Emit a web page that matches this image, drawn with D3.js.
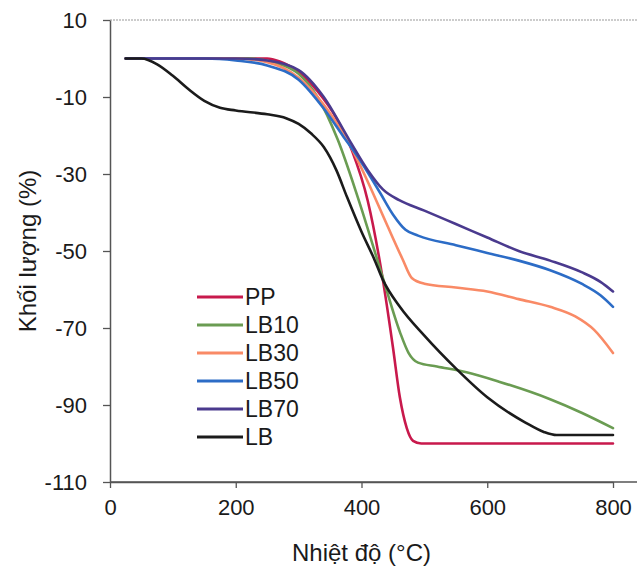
<!DOCTYPE html>
<html>
<head>
<meta charset="utf-8">
<script src="https://cdn.jsdelivr.net/npm/d3@7"></script>
<style>
  body { margin: 0; background: #fff; }
  svg { display: block; font-family: "Liberation Sans", Arial, sans-serif; }
</style>
</head>
<body>
<script>
var width = 637;
var height = 572;

var xTicks = [0, 200, 400, 600, 800];
var yTicks = [10, -10, -30, -50, -70, -90, -110];

var seriesNames = ["PP", "LB10", "LB30", "LB50", "LB70", "LB"];
var seriesColors = ["#c8194c", "#6a9c52", "#f98a66", "#2c6cc6", "#4a3a8e", "#1b1b1b"];

// temperature (°C), mass change (%)
var pp = [[25,0],[250,0],[270,-0.8],[300,-3.5],[330,-8.5],[360,-15.5],[385,-24],[410,-37],[434,-57.5],[450,-75],[461,-88],[472,-96],[482,-99.3],[495,-100],[800,-100]];
var lb10 = [[25,0],[220,0],[260,-1],[300,-4],[330,-10],[362,-21],[394,-36],[434,-57],[461,-71],[475,-76.5],[490,-79],[520,-80],[567,-81.5],[620,-84],[700,-88.5],[750,-92],[800,-96]];
var lb30 = [[25,0],[200,0],[250,-1],[300,-5],[340,-12],[380,-22],[410,-32],[440,-43],[465,-52],[480,-57],[500,-58.5],[550,-59.5],[600,-60.5],[650,-62.5],[700,-64.5],[740,-67],[770,-70.5],[800,-76.5]];
var lb50 = [[25,0],[150,0],[200,-0.5],[250,-1.8],[300,-5.5],[340,-13],[370,-20],[400,-27],[430,-35],[450,-40.5],[470,-44.5],[490,-46],[550,-48.5],[600,-50.5],[650,-52.5],[700,-55],[750,-58.5],[780,-61.5],[800,-64.5]];
var lb70 = [[25,0],[200,0],[250,-0.5],[300,-3],[340,-10],[380,-21],[410,-29],[434,-34],[460,-36.8],[500,-39.5],[550,-43],[600,-46.5],[650,-50],[700,-52.5],[750,-55.5],[780,-58],[800,-60.5]];
var lb = [[25,0],[50,0],[75,-1.5],[100,-4.5],[125,-8],[150,-11],[175,-12.8],[200,-13.5],[250,-14.5],[280,-15.5],[300,-17],[320,-19.5],[340,-23],[360,-29],[377,-36],[400,-45],[420,-52],[434,-57.5],[461,-64.5],[500,-72],[550,-80.5],[600,-88],[660,-94.5],[690,-97],[710,-97.8],[800,-97.8]];

var seriesData = [pp, lb10, lb30, lb50, lb70, lb];

var x = d3.scaleLinear().domain([0, 800]).range([110, 613]);
var y = d3.scaleLinear().domain([-110, 10]).range([482, 20]);

var svg = d3.select("body").append("svg")
  .attr("width", width)
  .attr("height", height);

// dotted top frame line
svg.append("line")
  .attr("x1", x(0)).attr("x2", width)
  .attr("y1", y(10)).attr("y2", y(10))
  .attr("stroke", "#999")
  .attr("stroke-width", 1)
  .attr("stroke-dasharray", "2,1");

// bottom axis line continues to the edge
svg.append("line")
  .attr("x1", x(0)).attr("x2", width)
  .attr("y1", y(-110)).attr("y2", y(-110))
  .attr("stroke", "#555")
  .attr("stroke-width", 1.5);

var plain = function(d) { return String(d); };

var xAxis = svg.append("g")
  .attr("transform", "translate(0," + y(-110) + ")")
  .call(d3.axisBottom(x).tickValues(xTicks).tickFormat(plain).tickSize(6).tickPadding(11).tickSizeOuter(0));

var yAxis = svg.append("g")
  .attr("transform", "translate(" + x(0) + ",0)")
  .call(d3.axisLeft(y).tickValues(yTicks).tickFormat(plain).tickSize(7).tickPadding(16).tickSizeOuter(0));

[xAxis, yAxis].forEach(function(g) {
  g.select(".domain").attr("stroke", "#555").attr("stroke-width", 1.5);
  g.selectAll(".tick line").attr("stroke", "#555").attr("stroke-width", 1.3);
  g.selectAll(".tick text").attr("fill", "#1a1a1a").style("font-size", "22px");
});
yAxis.selectAll(".tick text").attr("dy", "0.36em");

var line = d3.line()
  .x(function(d) { return x(d[0]); })
  .y(function(d) { return y(d[1]); })
  .curve(d3.curveMonotoneX);

svg.append("g").selectAll("path")
  .data(seriesData)
  .enter().append("path")
  .attr("d", line)
  .attr("fill", "none")
  .attr("stroke", function(d, i) { return seriesColors[i]; })
  .attr("stroke-width", 2.6)
  .attr("stroke-linejoin", "round")
  .attr("stroke-linecap", "round");

// legend
var legend = svg.append("g")
  .attr("transform", "translate(197,297)");

var item = legend.selectAll("g")
  .data(seriesNames)
  .enter().append("g")
  .attr("transform", function(d, i) { return "translate(0," + (i * 28) + ")"; });

item.append("line")
  .attr("x1", 0).attr("x2", 46)
  .attr("y1", 0).attr("y2", 0)
  .attr("stroke", function(d, i) { return seriesColors[i]; })
  .attr("stroke-width", 3.2);

item.append("text")
  .attr("x", 48)
  .attr("dy", "0.36em")
  .attr("fill", "#1a1a1a")
  .style("font-size", "23px")
  .text(function(d) { return d; });

// axis titles
svg.append("text")
  .attr("x", x(400))
  .attr("y", 561)
  .attr("text-anchor", "middle")
  .attr("fill", "#1a1a1a")
  .style("font-size", "24px")
  .text("Nhiệt độ (°C)");

svg.append("text")
  .attr("transform", "translate(36," + y(-50) + ") rotate(-90)")
  .attr("text-anchor", "middle")
  .attr("fill", "#1a1a1a")
  .style("font-size", "24px")
  .text("Khối lượng (%)");
</script>
</body>
</html>
